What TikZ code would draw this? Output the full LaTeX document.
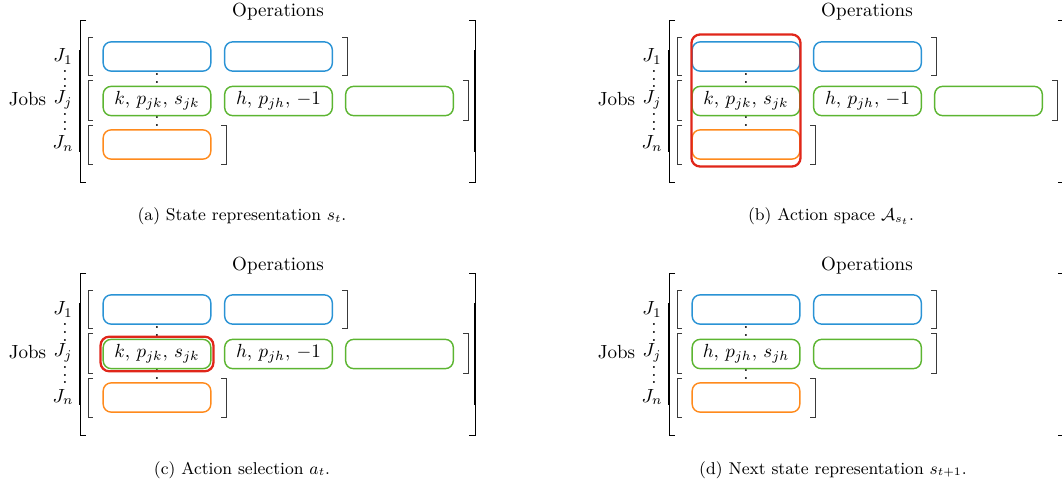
\documentclass[tikz,border=0pt]{standalone}
\usepackage{amsmath,amssymb}
\usepackage{tikz}
\usetikzlibrary{positioning,fit}
\definecolor{OpBlue}{HTML}{2A93D5}
\definecolor{OpGreen}{HTML}{5CB531}
\definecolor{OpOrange}{HTML}{FF8A1C}
\definecolor{PickRed}{HTML}{E0261A}
\definecolor{BrkGray}{HTML}{3A3A3A}

\begin{document}
\begin{tikzpicture}[x=0.526pt, y=-0.526pt,
  opbox/.style={draw, rounded corners=4.2pt, line width=0.75pt, fill=white,
    minimum width=56.6pt, minimum height=15.4pt, inner sep=0pt},
  rowbrk/.style={draw=BrkGray, line width=0.5pt},
  bigbrk/.style={draw=black, line width=0.5pt},
  thickbrk/.style={draw=black, line width=1.2pt},
  pick/.style={draw=PickRed, line width=1.2pt, rounded corners=4.5pt},
  dotcol/.style={anchor=base, inner sep=0pt},
  subcap/.style={font=\small, anchor=base}]

\useasboundingbox (0,0) rectangle (1062,486);

% frame shared by the four panels
\foreach \dx/\dy/\p in {0/0/a, 589/0/b, 0/253/c, 589/253/d}{
  \begin{scope}[shift={(\dx,\dy)}]
  \node[anchor=base] (ops\p) at (278,17) {Operations};
  \node[anchor=base] (jobs\p) at (27.5,106) {Jobs};
  \node[anchor=base] (j1\p) at (63,62) {$J_1$};
  \node[anchor=base] (jj\p) at (63,104) {$J_j$};
  \node[anchor=base] (jn\p) at (63,149) {$J_n$};
  \node[dotcol] (vl1\p) at (65,88) {$\vdots$};
  \node[dotcol] (vl2\p) at (65,131) {$\vdots$};
  % outer brackets
  \draw[bigbrk] (86,20) -- (80,20) -- (80,182) -- (86,182);
  \draw[thickbrk] (80,50) -- (80,152);
  \draw[bigbrk] (469,20) -- (475,20) -- (475,182) -- (469,182);
  \draw[thickbrk] (475,50) -- (475,152);
  % dots under the first column (last dot hidden by the box below)
  \node[dotcol] (vc1\p) at (157,91) {$\vdots$};
  \node[dotcol] (vc2\p) at (157,134) {$\vdots$};
  % row J_1
  \node[opbox, draw=OpBlue] (o11\p) at (157,56.5) {};
  \node[opbox, draw=OpBlue] (o12\p) at (278.5,56.5) {};
  \draw[rowbrk] (93,37) -- (88,37) -- (88,75) -- (93,75);
  \draw[rowbrk] (342,37) -- (347,37) -- (347,75) -- (342,75);
  % row J_j, left side
  \draw[rowbrk] (93,80) -- (88,80) -- (88,120) -- (93,120);
  % row J_n
  \node[opbox, draw=OpOrange] (o31\p) at (157,144.5) {};
  \draw[rowbrk] (93,125) -- (88,125) -- (88,164) -- (93,164);
  \draw[rowbrk] (221,125) -- (226,125) -- (226,164) -- (221,164);
  \end{scope}
}

% row J_j before the step
\foreach \dx/\dy/\p in {0/0/a, 589/0/b, 0/253/c}{
  \begin{scope}[shift={(\dx,\dy)}]
  \node[opbox, draw=OpGreen] (o21\p) at (157,101) {$k,\,p_{jk},\,s_{jk}$};
  \node[opbox, draw=OpGreen] (o22\p) at (278.5,101) {$h,\,p_{jh},\,-1$};
  \node[opbox, draw=OpGreen] (o23\p) at (399.5,101) {};
  \draw[rowbrk] (463,80) -- (468,80) -- (468,120) -- (463,120);
  \end{scope}
}

% row J_j after the step
\begin{scope}[shift={(589,253)}]
  \node[opbox, draw=OpGreen] (o21d) at (157,101) {$h,\,p_{jh},\,s_{jh}$};
  \node[opbox, draw=OpGreen] (o22d) at (278.5,101) {};
  \draw[rowbrk] (342,80) -- (347,80) -- (347,120) -- (342,120);
\end{scope}

% highlights
\node[pick, fit=(o11b)(o31b), inner xsep=0pt, inner ysep=3.5pt] (pickb) {};
\node[pick, fit=(o21c), inner sep=1pt] (pickc) {};

% captions
\node[subcap] (capa) at (242,221) {(a) State representation $s_t$.};
\node[subcap] (capb) at (831,221) {(b) Action space $\mathcal{A}_{s_t}$.};
\node[subcap] (capc) at (242,474) {(c) Action selection $a_t$.};
\node[subcap] (capd) at (833,474) {(d) Next state representation $s_{t+1}$.};
\end{tikzpicture}
\end{document}
